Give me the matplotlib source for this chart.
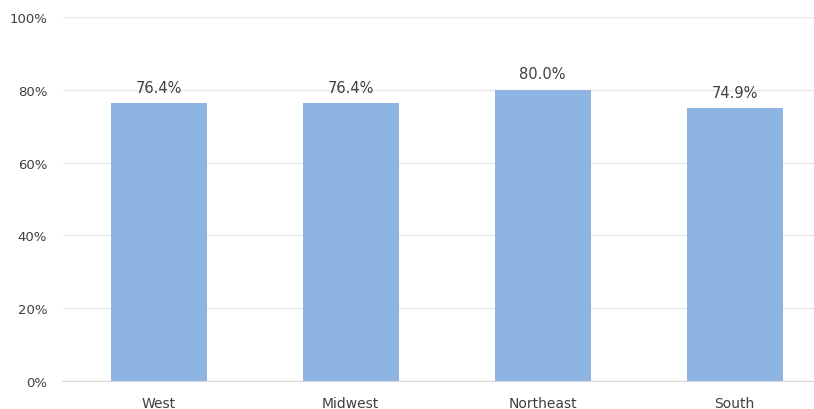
import matplotlib.pyplot as plt
from matplotlib.ticker import PercentFormatter

regions = ["West", "Midwest", "Northeast", "South"]
shares = [76.4, 76.4, 80.0, 74.9]
y_ticks = [0, 20, 40, 60, 80, 100]

fig = plt.figure(figsize=(8.14, 4.10), dpi=100)
ax = fig.add_axes([62.5 / 814, 28 / 410, 768 / 814, 364 / 410])

x = range(len(regions))
bars = ax.bar(x, shares, width=0.5, color="#8EB4E3", zorder=3)

for b, v in zip(bars, shares):
    ax.annotate(f"{v:.1f}%", (b.get_x() + b.get_width() / 2, v),
                xytext=(0, 6), textcoords="offset points",
                ha="center", va="bottom", fontsize=10.5, color="#3F3F3F")

ax.set_xlim(-0.5, len(regions) - 0.5)
ax.set_ylim(0, 100)
ax.set_yticks(y_ticks)
ax.yaxis.set_major_formatter(PercentFormatter(decimals=0))
ax.set_xticks(list(x))
ax.set_xticklabels(regions, fontsize=10)

ax.grid(axis="y", color="#E6E6E6", linewidth=1, zorder=0)
for s in ["top", "right", "left"]:
    ax.spines[s].set_visible(False)
ax.spines["bottom"].set_color("#D9D9D9")
ax.tick_params(axis="both", length=0, colors="#3F3F3F")
ax.tick_params(axis="y", pad=11, labelsize=9.5)
ax.tick_params(axis="x", pad=11)

fig.savefig("out.png", dpi=100)
